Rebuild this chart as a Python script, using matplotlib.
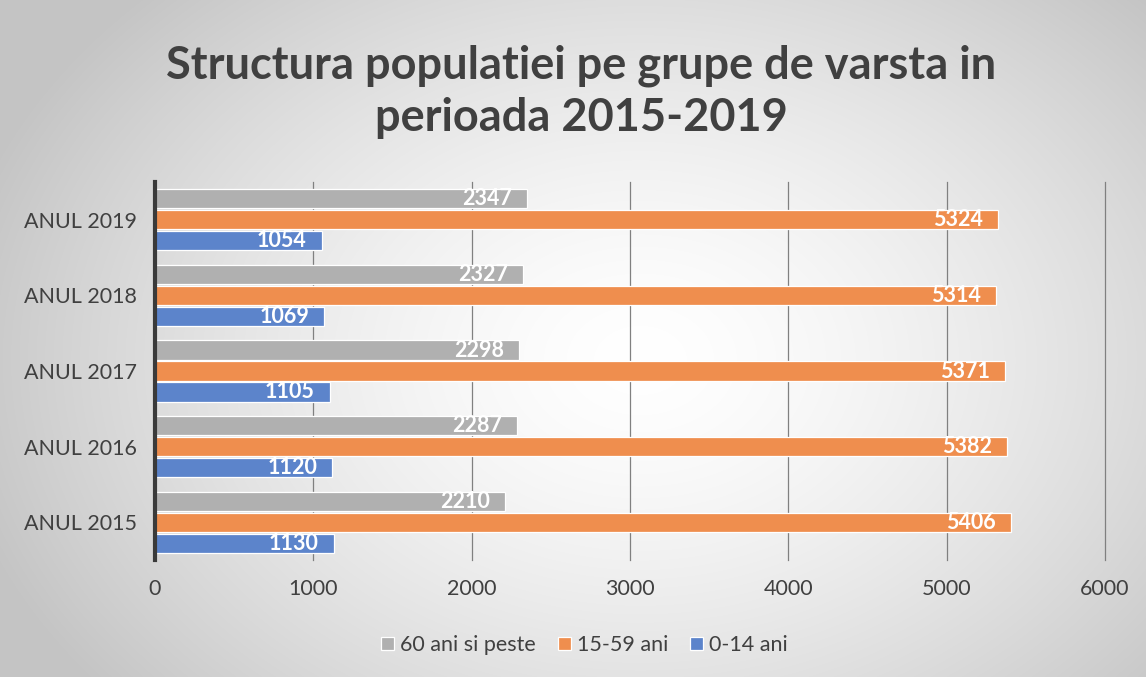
import matplotlib.pyplot as plt
import numpy as np

# data
years = ["ANUL 2015", "ANUL 2016", "ANUL 2017", "ANUL 2018", "ANUL 2019"]
age_60_plus = [2210, 2287, 2298, 2327, 2347]
age_15_59 = [5406, 5382, 5371, 5314, 5324]
age_0_14 = [1130, 1120, 1105, 1069, 1054]
series_names = ["60 ani si peste", "15-59 ani", "0-14 ani"]
colors = ["#b0b0b0", "#ef8e4e", "#5c84cb"]

plt.rcParams['font.family'] = ['Lato', 'DejaVu Sans']
txt = "#404040"

fig = plt.figure(figsize=(11.46, 6.77), dpi=100)

# radial gradient background
bg = fig.add_axes([0, 0, 1, 1], zorder=-10)
yy, xx = np.mgrid[0:677, 0:1146]
r = np.sqrt(((xx - 640) / 700.0) ** 2 + ((yy - 360) / 520.0) ** 2)
shade = 1.0 - 0.23 * np.clip(r, 0, 1) ** 1.5
bg.imshow(np.dstack([shade] * 3), aspect='auto', extent=[0, 1, 0, 1])
bg.axis('off')

ax = fig.add_axes([155 / 1146, 1 - 560 / 677, 950 / 1146, 378 / 677])
ax.patch.set_alpha(0)

pos = np.arange(len(years))
h = 0.255
step = 0.277
for i, (vals, c, name) in enumerate(zip([age_60_plus, age_15_59, age_0_14], colors, series_names)):
    yp = pos + step * (1 - i)
    bars = ax.barh(yp, vals, height=h, color=c, edgecolor="white", linewidth=0.9,
                   label=name, zorder=3)
    for b, v in zip(bars, vals):
        ax.text(v - 95, b.get_y() + h / 2, str(v), ha='right', va='center',
                color='white', fontsize=15.5, fontweight='bold', zorder=4)

ax.set_xlim(0, 6000)
ax.set_ylim(-0.5, 4.5)
ax.set_xticks(range(0, 6001, 1000))
ax.set_yticks(pos)
ax.set_yticklabels(years)
ax.xaxis.grid(True, color="#808080", linewidth=0.9, zorder=0)
for gl in ax.get_xgridlines():
    gl.set_clip_on(False)
ax.tick_params(axis='both', length=0, labelsize=15.5, colors=txt)
ax.tick_params(axis='x', pad=14)
ax.tick_params(axis='y', pad=13)
for s in ['top', 'right', 'bottom']:
    ax.spines[s].set_visible(False)
ax.spines['left'].set_color("#3a3a3a")
ax.spines['left'].set_linewidth(3)
ax.spines['left'].set_zorder(5)

fig.text(0.507, 1 - 92 / 677, "Structura populatiei pe grupe de varsta in\nperioada 2015-2019",
         ha='center', va='center', fontsize=32.5, fontweight='bold', color=txt,
         linespacing=1.3)

ax.legend(loc='center', bbox_to_anchor=(0.51, 1 - 645 / 677), bbox_transform=fig.transFigure,
          ncol=3, frameon=False, fontsize=15.5, handlelength=0.6, handleheight=0.6,
          handletextpad=0.3, columnspacing=1.0, labelcolor=txt)

fig.savefig("out.png", dpi=100)
